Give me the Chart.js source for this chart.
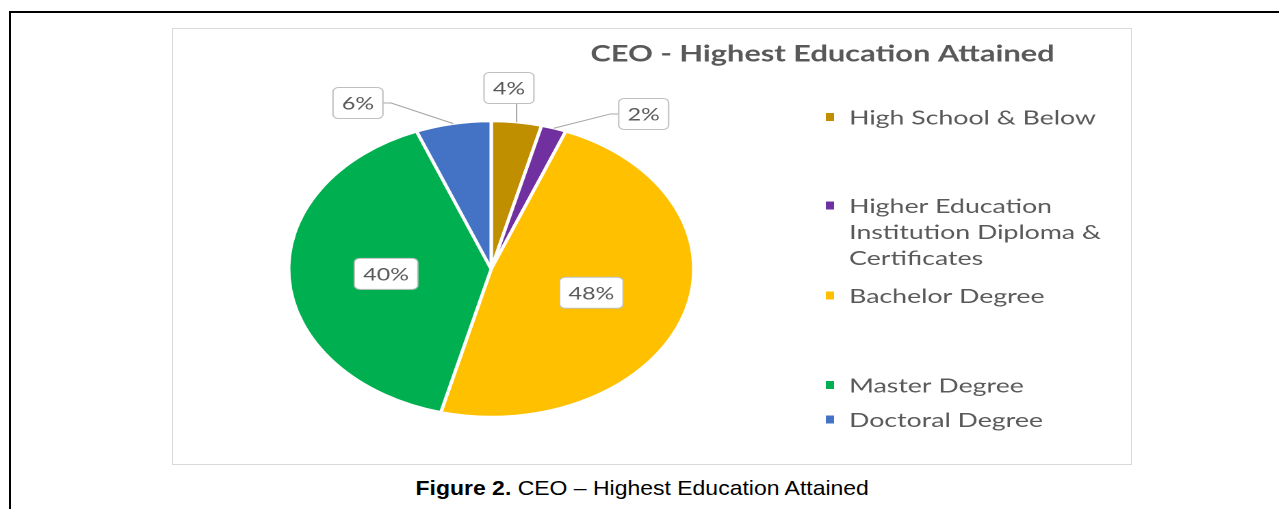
<!DOCTYPE html>
<html>
<head>
<meta charset="utf-8">
<title>CEO - Highest Education Attained</title>
<script src="https://cdn.jsdelivr.net/npm/chart.js@4.4.1/dist/chart.umd.min.js"></script>
<style>
    html, body { margin: 0; padding: 0; background: #fff; }
    body { width: 1281px; height: 509px; position: relative; overflow: hidden; }
    .frame {
        position: absolute; left: 9px; top: 11px; width: 1268px; height: 520px;
        border-top: 2px solid #000; border-left: 2px solid #000;
    }
    .chart-box {
        position: absolute; left: 172px; top: 28px; width: 958px; height: 435px;
        border: 1px solid #d9d9d9; overflow: hidden; background: #fff;
    }
    /* the figure is drawn narrow and stretched sideways */
    .stretch { width: 700px; height: 435px; transform: scaleX(1.3686); transform-origin: 0 0; }
    .caption {
        position: absolute; left: 142px; width: 1000px; top: 476px; text-align: center;
        line-height: 24px; font-size: 21px; color: #000;
        font-family: "Liberation Sans", Arial, sans-serif;
    }
    .caption span { display: inline-block; transform: scaleX(1.094); transform-origin: 50% 50%; white-space: nowrap; }
</style>
</head>
<body>
<div class="frame"></div>
<div class="chart-box">
    <div class="stretch"><canvas id="eduChart" width="700" height="435"></canvas></div>
</div>
<div class="caption"><span><b>Figure 2.</b> CEO – Highest Education Attained</span></div>

<script>
// CEO education breakdown (percent)
const categories = ['High School & Below', 'Higher Education Institution Diploma & Certificates', 'Bachelor Degree', 'Master Degree', 'Doctoral Degree'];
const shares = [4, 2, 48, 40, 6];
const sliceColors = ['#BF8F00', '#7030A0', '#FFC000', '#00B050', '#4472C4'];
const chartTitle = 'CEO - Highest Education Attained';

// Split a legend entry into lines that fit maxWidth
function wrapText(ctx, text, maxWidth) {
    const words = text.split(' ');
    const lines = [];
    let line = '';
    words.forEach(word => {
        const test = line ? line + ' ' + word : word;
        if (line && ctx.measureText(test).width > maxWidth) {
            lines.push(line);
            line = word;
        } else {
            line = test;
        }
    });
    if (line) lines.push(line);
    return lines;
}

function roundRect(ctx, x, y, w, h, r) {
    ctx.beginPath();
    ctx.moveTo(x + r, y);
    ctx.arcTo(x + w, y, x + w, y + h, r);
    ctx.arcTo(x + w, y + h, x, y + h, r);
    ctx.arcTo(x, y + h, x, y, r);
    ctx.arcTo(x, y, x + w, y, r);
    ctx.closePath();
}

// Percent callouts: inside the big slices, boxed with a leader line for the small ones
const sliceLabels = {
    id: 'sliceLabels',
    afterDatasetsDraw(chart, args, opts) {
        const ctx = chart.ctx;
        const meta = chart.getDatasetMeta(0);
        ctx.save();
        ctx.font = opts.font;
        ctx.textAlign = 'center';
        ctx.textBaseline = 'middle';
        meta.data.forEach((arc, i) => {
            const p = arc.getProps(['x', 'y', 'startAngle', 'endAngle', 'outerRadius'], true);
            const mid = (p.startAngle + p.endAngle) / 2;
            const text = shares[i] + '%';
            const w = ctx.measureText(text).width + opts.padX * 2;
            const h = opts.boxHeight;
            let cx, cy;
            const place = opts.outside[i];
            if (place) {
                const a = place[0] * Math.PI / 180 - Math.PI / 2;
                cx = p.x + Math.cos(a) * p.outerRadius * place[1];
                cy = p.y + Math.sin(a) * p.outerRadius * place[1];
                const tx = p.x + Math.cos(mid) * p.outerRadius;
                const ty = p.y + Math.sin(mid) * p.outerRadius;
                ctx.beginPath();
                if (Math.abs(tx - cx) <= w / 2) {
                    ctx.moveTo(tx, ty > cy ? cy + h / 2 : cy - h / 2);
                } else {
                    const side = tx > cx ? 1 : -1;
                    ctx.moveTo(cx + side * w / 2, cy);
                    ctx.lineTo(cx + side * (w / 2 + 6), cy);
                }
                ctx.lineTo(tx, ty);
                ctx.strokeStyle = opts.lineColor;
                ctx.lineWidth = 1;
                ctx.stroke();
            } else {
                cx = p.x + Math.cos(mid) * p.outerRadius * opts.inset;
                cy = p.y + Math.sin(mid) * p.outerRadius * opts.inset;
            }
            roundRect(ctx, cx - w / 2, cy - h / 2, w, h, 4);
            ctx.fillStyle = '#ffffff';
            ctx.fill();
            ctx.strokeStyle = opts.boxBorder;
            ctx.lineWidth = 1;
            ctx.stroke();
            ctx.fillStyle = opts.color;
            ctx.fillText(text, cx, cy + 1);
        });
        ctx.restore();
    }
};

// Title and legend on the right-hand side
const sideText = {
    id: 'sideText',
    afterDraw(chart, args, opts) {
        const ctx = chart.ctx;
        ctx.save();
        ctx.fillStyle = opts.color;
        ctx.textBaseline = 'middle';
        ctx.textAlign = 'center';
        ctx.font = opts.titleFont;
        ctx.fillText(chartTitle, opts.titleX, opts.titleY);

        ctx.textAlign = 'left';
        ctx.font = opts.legendFont;
        categories.forEach((label, i) => {
            const y = opts.itemY[i];
            ctx.fillStyle = sliceColors[i];
            ctx.fillRect(opts.boxX, y - 4, 6, 8);
            ctx.fillStyle = opts.color;
            wrapText(ctx, label, opts.wrapWidth).forEach((line, k) => {
                ctx.fillText(line, opts.textX, y + 1 + k * opts.lineHeight);
            });
        });
        ctx.restore();
    }
};

new Chart(document.getElementById('eduChart'), {
    type: 'pie',
    data: {
        labels: categories,
        datasets: [{
            data: shares,
            backgroundColor: sliceColors,
            borderColor: '#ffffff',
            borderWidth: 2.5,
            radius: 148
        }]
    },
    options: {
        responsive: false,
        devicePixelRatio: 2,
        animation: false,
        layout: { padding: { left: 0, right: 235, top: 60, bottom: 15 } },
        plugins: {
            legend: { display: false },
            tooltip: { enabled: false },
            sliceLabels: {
                font: '17px Lato, "Open Sans", sans-serif',
                color: '#595959',
                boxBorder: '#bfbfbf',
                lineColor: '#a6a6a6',
                padX: 6.5,
                boxHeight: 31,
                inset: 0.52,
                outside: { 0: [4.1, 1.226], 1: [35.7, 1.29], 4: [-30.4, 1.30] }
            },
            sideText: {
                color: '#595959',
                titleFont: 'bold 22.5px Lato, "Open Sans", sans-serif',
                titleX: 474.6,
                titleY: 25,
                legendFont: '19.5px Lato, "Open Sans", sans-serif',
                boxX: 477,
                textX: 494,
                wrapWidth: 200,
                lineHeight: 26,
                itemY: [88, 176.5, 266.5, 356, 390.5]
            }
        }
    },
    plugins: [sliceLabels, sideText]
});
</script>
</body>
</html>
